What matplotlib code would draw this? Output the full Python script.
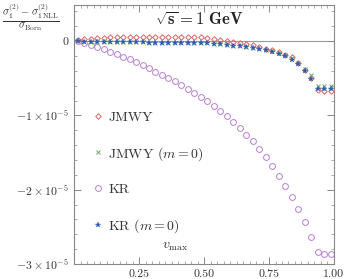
import matplotlib
matplotlib.use("Agg")
import matplotlib.pyplot as plt
from matplotlib.ticker import FixedLocator, MultipleLocator

plt.rcParams['font.family'] = 'serif'
plt.rcParams['font.serif'] = ['cmr10', 'DejaVu Serif']
plt.rcParams['mathtext.fontset'] = 'cm'
plt.rcParams['axes.unicode_minus'] = False
plt.rcParams['axes.formatter.use_mathtext'] = True

v = [0.0125, 0.0375, 0.0625, 0.0875, 0.1125, 0.1375, 0.1625, 0.1875, 0.2125, 0.2375,
     0.2625, 0.2875, 0.3125, 0.3375, 0.3625, 0.3875, 0.4125, 0.4375, 0.4625, 0.4875,
     0.5125, 0.5375, 0.5625, 0.5875, 0.6125, 0.6375, 0.6625, 0.6875, 0.7125, 0.7375,
     0.7625, 0.7875, 0.8125, 0.8375, 0.8625, 0.8875, 0.9125, 0.9375, 0.9625, 0.9875]

# values in units of 1e-5
jmwy = [0.02, 0.03, 0.03, 0.04, 0.04, 0.05, 0.05, 0.05, 0.06, 0.06,
        0.06, 0.06, 0.06, 0.06, 0.06, 0.06, 0.06, 0.06, 0.05, 0.05,
        0.04, 0.03, 0.02, 0.00, -0.01, -0.02, -0.04, -0.05, -0.08, -0.10,
        -0.12, -0.15, -0.18, -0.22, -0.29, -0.39, -0.50, -0.66, -0.67, -0.67]

jmwy_m0 = [0.00, -0.01, -0.01, -0.01, -0.01, -0.01, -0.01, -0.01, -0.01, -0.01,
           -0.01, -0.02, -0.02, -0.02, -0.02, -0.02, -0.02, -0.02, -0.02, -0.03,
           -0.03, -0.04, -0.04, -0.05, -0.06, -0.07, -0.08, -0.09, -0.10, -0.12,
           -0.13, -0.16, -0.19, -0.23, -0.29, -0.37, -0.46, -0.61, -0.61, -0.61]

kr = [0.00, -0.02, -0.05, -0.08, -0.11, -0.14, -0.17, -0.21, -0.24, -0.28,
      -0.32, -0.36, -0.41, -0.45, -0.50, -0.54, -0.59, -0.64, -0.70, -0.75,
      -0.81, -0.87, -0.94, -1.01, -1.09, -1.17, -1.26, -1.35, -1.45, -1.56,
      -1.68, -1.81, -1.95, -2.10, -2.26, -2.44, -2.64, -2.84, -2.86, -2.86]

kr_m0 = [0.00, -0.01, -0.01, -0.01, -0.01, -0.01, -0.01, -0.01, -0.01, -0.01,
         -0.01, -0.02, -0.02, -0.02, -0.02, -0.02, -0.02, -0.02, -0.02, -0.03,
         -0.03, -0.04, -0.04, -0.05, -0.06, -0.07, -0.08, -0.09, -0.11, -0.12,
         -0.14, -0.17, -0.20, -0.25, -0.31, -0.40, -0.51, -0.64, -0.64, -0.64]

labels = ["JMWY", r"JMWY $(m=0)$", "KR", r"KR $(m=0)$"]
xticks = [0.25, 0.50, 0.75, 1.00]
xticklabels = ["0.25", "0.50", "0.75", "1.00"]
yticks = [0, -1e-5, -2e-5, -3e-5]
yticklabels = ["0", r"$-1\times10^{-5}$", r"$-2\times10^{-5}$", r"$-3\times10^{-5}$"]

scale = 1e-5
fig = plt.figure(figsize=(3.46, 2.79), dpi=100)
ax = fig.add_axes([0.215, 0.054, 0.75, 0.929])

red = '#e0605f'
green = '#6aa86a'
purple = '#b681d0'
blue = '#2b5cb8'

ax.axhline(0, color='#999999', lw=0.8, zorder=1)

h_red, = ax.plot(v, [y * scale for y in jmwy], ls='none', marker='D', ms=2.8,
                 mfc='none', mec=red, mew=0.7, zorder=3)
h_green, = ax.plot(v, [y * scale for y in jmwy_m0], ls='none', marker='x', ms=3.2,
                   color=green, mew=0.7, zorder=4)
h_purple, = ax.plot(v, [y * scale for y in kr], ls='none', marker='o', ms=4.2,
                    mfc='none', mec=purple, mew=0.7, zorder=2)
h_blue, = ax.plot(v, [y * scale for y in kr_m0], ls='none', marker='*', ms=4.2,
                  color=blue, mew=0.2, zorder=5)

ax.set_xlim(0, 1.0)
ax.set_ylim(-3e-5, 0.49e-5)

ax.xaxis.set_major_locator(FixedLocator(xticks))
ax.set_xticklabels(xticklabels)
ax.xaxis.set_minor_locator(MultipleLocator(0.025))
ax.yaxis.set_major_locator(FixedLocator(yticks))
ax.set_yticklabels(yticklabels)
ax.yaxis.set_minor_locator(MultipleLocator(0.2e-5))

for s in ax.spines.values():
    s.set_color('#888888')
    s.set_linewidth(0.8)
ax.tick_params(which='both', direction='in', top=True, right=True, color='#888888',
               labelsize=8.5, labelcolor='#333333')
ax.tick_params(which='major', length=5, width=0.7, pad=4)
ax.tick_params(which='minor', length=2.5, width=0.5)

leg = ax.legend([h_red, h_green, h_purple, h_blue], labels, loc='upper left',
                bbox_to_anchor=(0.045, 0.61), frameon=False, fontsize=10,
                labelspacing=1.5, handlelength=0.9, handletextpad=0.3,
                borderaxespad=0.0)
for t in leg.get_texts():
    t.set_color('#333333')

ax.text(0.48, 0.945, r'$\mathbf{\sqrt{s}=1\ GeV}$', transform=ax.transAxes,
        ha='center', va='center', fontsize=12, color='#222222')
ax.text(0.39, 0.065, r'$v_{\mathrm{max}}$', transform=ax.transAxes,
        ha='center', va='center', fontsize=10, color='#333333')
fig.text(0.09, 0.935,
         r'$\frac{\sigma_1^{(2)}-\sigma_{1\,\mathrm{NLL}}^{(2)}}{\sigma_{\mathrm{Born}}}$',
         ha='center', va='center', fontsize=11, color='#333333')

fig.savefig('out.png', dpi=100)
